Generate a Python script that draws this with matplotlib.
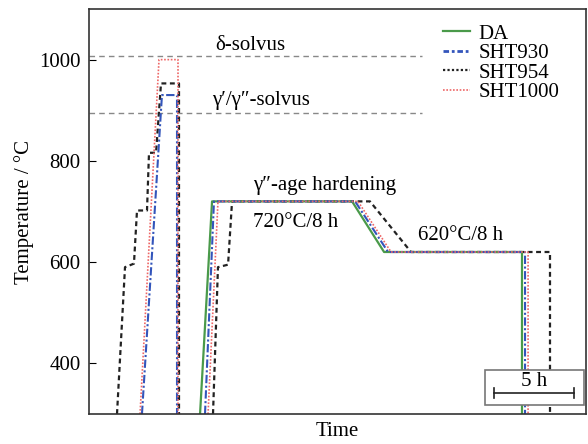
import matplotlib
matplotlib.use("Agg")
import matplotlib.pyplot as plt
from matplotlib.patches import Rectangle
from matplotlib.lines import Line2D

plt.rcParams['font.family'] = ['Liberation Serif', 'DejaVu Serif']
plt.rcParams['mathtext.fontset'] = 'stix'

# --- data (time in h, temperature in °C) ---
da_t = [6.94, 7.69, 16.44, 18.44, 27.06, 27.06]
da_T = [300, 720, 720, 620, 620, 300]

sht930_t1 = [3.31, 4.56, 5.50, 5.50]
sht930_T1 = [300, 930, 930, 300]
sht930_t2 = [7.25, 7.81, 16.63, 18.69, 27.25, 27.25]
sht930_T2 = [300, 720, 720, 620, 620, 300]

sht954_t1 = [1.75, 2.25, 2.81, 3.00, 3.625, 3.75, 4.19, 4.50, 5.625, 5.625]
sht954_T1 = [300, 590, 597, 702, 702, 816, 816, 953, 953, 300]
sht954_t2 = [7.75, 8.06, 8.69, 8.94, 17.56, 20.125, 28.81, 28.81]
sht954_T2 = [300, 590, 595, 720, 720, 620, 620, 300]

sht1000_t1 = [3.19, 4.375, 5.5625, 5.5625]
sht1000_T1 = [300, 1000, 1000, 300]
sht1000_t2 = [7.44, 8.06, 16.81, 18.875, 27.44, 27.44]
sht1000_T2 = [300, 720, 720, 620, 620, 300]

delta_solvus = 1008
gamma_solvus = 895
solvus_end = 20.8

yticks = [400, 600, 800, 1000]
scale_len = 5
series_names = ['DA', 'SHT930', 'SHT954', 'SHT1000']

fig = plt.figure(figsize=(5.88, 4.44), dpi=100)
ax = fig.add_axes([89/588, 1-414/444, 497/588, 405/444])

fs = 15
c_green = '#4a9a4a'
c_blue = '#3355bb'
c_black = '#222222'
c_red = '#ee6666'

ax.plot([0, solvus_end], [delta_solvus]*2, color='#888888', lw=1.0, dashes=(4, 3))
ax.plot([0, solvus_end], [gamma_solvus]*2, color='#888888', lw=1.0, dashes=(4, 3))

ax.plot(sht954_t1, sht954_T1, color=c_black, lw=1.6, dashes=(2.2, 1.6))
ax.plot(sht954_t2, sht954_T2, color=c_black, lw=1.6, dashes=(2.2, 1.6))
ax.plot(da_t, da_T, color=c_green, lw=1.6)
ax.plot(sht930_t1, sht930_T1, color=c_blue, lw=1.5, dashes=(4, 1.2, 1, 1.2))
ax.plot(sht930_t2, sht930_T2, color=c_blue, lw=1.5, dashes=(4, 1.2, 1, 1.2))
ax.plot(sht1000_t1, sht1000_T1, color=c_red, lw=1.2, dashes=(1, 1))
ax.plot(sht1000_t2, sht1000_T2, color=c_red, lw=1.2, dashes=(1, 1))

ax.set_xlim(0, 31.06)
ax.set_ylim(300, 1100)
ax.set_xticks([])
ax.set_yticks(yticks)
ax.tick_params(axis='y', direction='in', length=5, labelsize=fs, pad=6)
for s in ax.spines.values():
    s.set_color('#333333')
    s.set_linewidth(1.2)

ax.set_ylabel('Temperature / °C', fontsize=fs, labelpad=4)
ax.set_xlabel('Time', fontsize=fs, labelpad=6)

ax.text(7.9, 1027, 'δ-solvus', fontsize=fs, ha='left', va='center')
ax.text(7.7, 920, 'γ′/γ″-solvus', fontsize=fs, ha='left', va='center')
ax.text(10.25, 751, 'γ″-age hardening', fontsize=fs, ha='left', va='center')
ax.text(10.25, 678, '720°C/8 h', fontsize=fs, ha='left', va='center')
ax.text(20.56, 653, '620°C/8 h', fontsize=fs, ha='left', va='center')

handles = [
    Line2D([], [], color=c_green, lw=1.6),
    Line2D([], [], color=c_blue, lw=2.0, dashes=(2, 1, 1, 1)),
    Line2D([], [], color=c_black, lw=1.6, dashes=(1, 1)),
    Line2D([], [], color=c_red, lw=1.2, dashes=(1, 1)),
]
ax.legend(handles, series_names, loc='upper left',
          bbox_to_anchor=(0.712, 0.963), frameon=False, fontsize=fs,
          handlelength=1.3, handletextpad=0.4, labelspacing=0.0,
          borderpad=0, borderaxespad=0)

# scale bar
ax.add_patch(Rectangle((24.75, 317.6), 6.19, 68.7, facecolor='white',
                       edgecolor='#777777', lw=1.2, zorder=5))
x0 = 25.31
ax.plot([x0, x0 + scale_len], [341, 341], color='#222222', lw=1.2, zorder=6)
ax.plot([x0, x0], [331, 351], color='#222222', lw=1.2, zorder=6)
ax.plot([x0 + scale_len]*2, [331, 351], color='#222222', lw=1.2, zorder=6)
ax.text(x0 + scale_len/2, 364, f'{scale_len} h', fontsize=fs, ha='center', va='center', zorder=6)

fig.savefig('out.png', dpi=100)
